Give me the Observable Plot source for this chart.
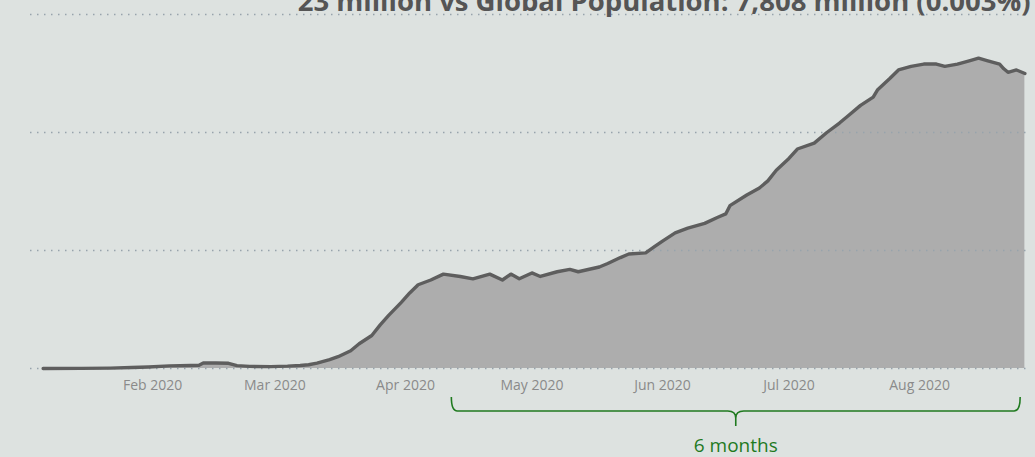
<!DOCTYPE html>
<html>
<head>
<meta charset="utf-8">
<script src="https://cdn.jsdelivr.net/npm/d3@7"></script>
<script src="https://cdn.jsdelivr.net/npm/@observablehq/plot@0.6"></script>
<style>
  html, body { margin: 0; padding: 0; background: #dde2e0; overflow: hidden; }
  #chart svg { display: block; }
</style>
</head>
<body>
<div id="chart"></div>
<script>
// ---- data (7-day average of daily new cases, thousands) ----
const titleText = "23 million vs Global Population: 7,808 million (0.003%)";
const dates = [
  "2020-01-06","2020-01-15","2020-01-22","2020-01-27","2020-01-31","2020-02-05","2020-02-10","2020-02-12",
  "2020-02-13","2020-02-16","2020-02-19","2020-02-21","2020-02-24","2020-02-29","2020-03-04","2020-03-07",
  "2020-03-09","2020-03-11","2020-03-14","2020-03-16","2020-03-19","2020-03-21","2020-03-24","2020-03-26",
  "2020-03-28","2020-03-31","2020-04-02","2020-04-04","2020-04-07","2020-04-10","2020-04-14","2020-04-17",
  "2020-04-21","2020-04-24","2020-04-26","2020-04-28","2020-05-01","2020-05-03","2020-05-07","2020-05-10",
  "2020-05-12","2020-05-17","2020-05-19","2020-05-22","2020-05-24","2020-05-28","2020-05-30","2020-06-01",
  "2020-06-04","2020-06-07","2020-06-11","2020-06-14","2020-06-16","2020-06-17","2020-06-21","2020-06-24",
  "2020-06-26","2020-06-28","2020-07-01","2020-07-03","2020-07-07","2020-07-10","2020-07-13","2020-07-15",
  "2020-07-18","2020-07-21","2020-07-22","2020-07-25","2020-07-27","2020-07-30","2020-08-02","2020-08-05",
  "2020-08-07","2020-08-10","2020-08-13","2020-08-15","2020-08-17","2020-08-20","2020-08-21","2020-08-22",
  "2020-08-24","2020-08-26"
];
const cases = [
  0, 0.1, 0.3, 0.8, 1.3, 2.2, 2.6, 2.8,
  4.6, 4.7, 4.4, 2.4, 1.8, 1.6, 2.0, 2.6,
  3.2, 4.5, 7.5, 10, 15, 21, 28, 37,
  45, 56, 64, 71, 75, 80, 78, 76,
  80, 75, 80, 76, 81, 78, 82, 84,
  82, 86, 89, 94, 97, 98, 103, 108,
  115, 119, 123, 128, 131, 138, 147, 153,
  159, 168, 178, 186, 191, 200, 208, 214,
  223, 230, 236, 246, 253, 256, 258, 258,
  256, 258, 261, 263, 261, 258, 254, 251,
  253, 250
];
const gridValues = [0, 100, 200, 300];
const tickDates = ["2020-02-01","2020-03-01","2020-04-01","2020-05-01","2020-06-01","2020-07-01","2020-08-01"];
const braceDates = ["2020-04-12", "2020-08-25"];
const braceLabel = "6 months";

const rows = dates.map((d, i) => ({date: new Date(d), value: cases[i]}));

const chart = Plot.plot({
  width: 1035,
  height: 457,
  marginTop: 14,
  marginBottom: 89,
  marginLeft: 30,
  marginRight: 5,
  style: {background: "#dde2e0", fontFamily: "'Open Sans', sans-serif", overflow: "visible"},
  x: {type: "utc", domain: [new Date("2020-01-03T00:00Z"), new Date("2020-08-27T08:00Z")]},
  y: {domain: [0, 300], axis: null},
  marks: [
    Plot.areaY(rows, {x: "date", y: "value", fill: "#adadad"}),
    Plot.ruleY(gridValues, {stroke: "#97a3ac", strokeWidth: 1.5, strokeDasharray: "1.5,5.5"}),
    Plot.lineY(rows, {x: "date", y: "value", stroke: "#5e5e5e", strokeWidth: 3.4, strokeLinejoin: "round", strokeLinecap: "round"}),
    Plot.axisX({
      ticks: tickDates.map(d => new Date(d)),
      tickFormat: "%b %Y",
      tickSize: 0,
      tickPadding: 12,
      fontSize: 14,
      fill: "#8a8a8a",
      label: null
    }),
    Plot.text([titleText], {
      frameAnchor: "top-right", dy: -4, lineAnchor: "bottom",
      fontSize: 27.5, fontWeight: "bold", fill: "#555555"
    })
  ]
});

// brace annotation positioned with the chart's x scale
const xs = chart.scale("x");
const x0 = xs.apply(new Date(braceDates[0]));
const x1 = xs.apply(new Date(braceDates[1]));
const xm = (x0 + x1) / 2;
const yb = 457 - 89;
const yTop = yb + 29, yLine = yb + 43, yTip = yb + 58;
const svg = d3.select(chart);
svg.append("path")
  .attr("d", `M${x0},${yTop} Q${x0},${yLine} ${x0 + 6},${yLine} L${xm - 8},${yLine} Q${xm},${yLine} ${xm},${yLine + 7} L${xm},${yTip} M${xm},${yLine + 7} Q${xm},${yLine} ${xm + 8},${yLine} L${x1 - 6},${yLine} Q${x1},${yLine} ${x1},${yTop}`)
  .attr("fill", "none")
  .attr("stroke", "#1f7a1f")
  .attr("stroke-width", 1.6);
svg.append("text")
  .attr("x", xm)
  .attr("y", yb + 84)
  .attr("text-anchor", "middle")
  .attr("font-size", 19)
  .attr("font-family", "'Open Sans', sans-serif")
  .attr("fill", "#1f7a1f")
  .text(braceLabel);

document.getElementById("chart").appendChild(chart);
</script>
</body>
</html>
